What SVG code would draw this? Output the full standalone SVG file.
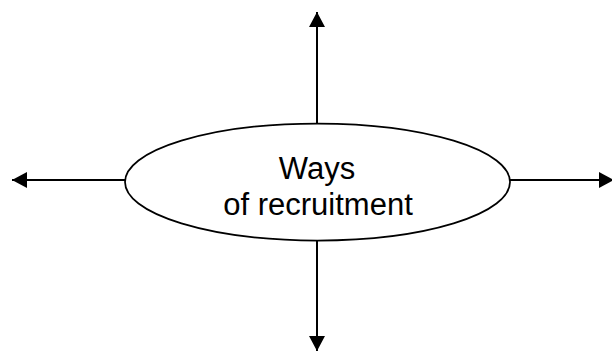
<svg xmlns="http://www.w3.org/2000/svg" width="612" height="351" viewBox="0 0 612 351">
  <style>
    .conn { stroke: #000; stroke-width: 2; fill: none; }
    .node { fill: #fff; stroke: #000; stroke-width: 1.75; }
    .label { font-family: "Liberation Sans", Arial, sans-serif; font-size: 31px; fill: #000; text-anchor: middle; }
  </style>
  <defs>
    <marker id="arrow" viewBox="0 0 10 10" refX="10" refY="5" markerWidth="7.5" markerHeight="8" markerUnits="strokeWidth" orient="auto" preserveAspectRatio="none">
      <path d="M0,0 L10,5 L0,10 Z" fill="#000"/>
    </marker>
  </defs>
  <rect width="612" height="351" fill="#fff"/>
  <g id="connectors">
    <line class="conn" x1="317" y1="125" x2="317" y2="12" marker-end="url(#arrow)"/>
    <line class="conn" x1="317" y1="240" x2="317" y2="351" marker-end="url(#arrow)"/>
    <line class="conn" x1="126" y1="180" x2="12" y2="180" marker-end="url(#arrow)"/>
    <line class="conn" x1="509" y1="180" x2="614" y2="180" marker-end="url(#arrow)"/>
  </g>
  <g id="ways-of-recruitment">
    <ellipse class="node" cx="317.5" cy="182" rx="192.5" ry="58.5"/>
    <text class="label" x="317" y="179">Ways</text>
    <text class="label" x="318" y="215">of recruitment</text>
  </g>
</svg>
